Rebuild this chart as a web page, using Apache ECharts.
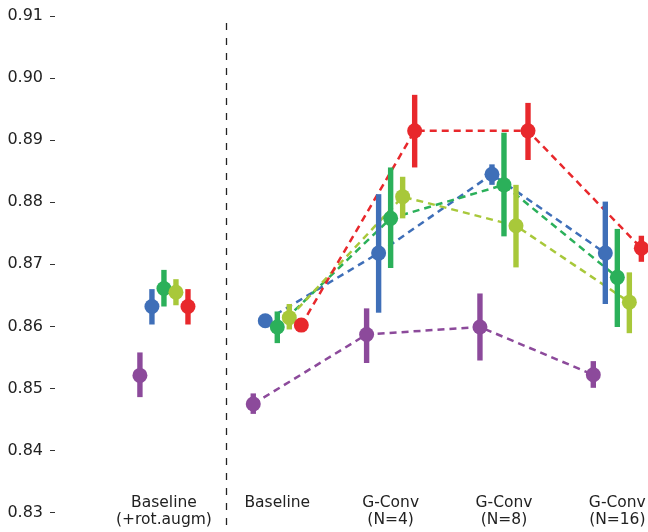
<!DOCTYPE html>
<html>
<head>
<meta charset="utf-8">
<script src="https://cdn.jsdelivr.net/npm/echarts@6/dist/echarts.min.js"></script>
<style>
  html, body { margin: 0; padding: 0; background: #fff; }
  #chart { width: 648px; height: 532px; }
</style>
</head>
<body>
<div id="chart"></div>
<script>
const categories = ['Baseline\n(+rot.augm)', 'Baseline', 'G-Conv\n(N=4)', 'G-Conv\n(N=8)', 'G-Conv\n(N=16)'];
const yTicks = [0.83, 0.84, 0.85, 0.86, 0.87, 0.88, 0.89, 0.90, 0.91];

// mean / lower / upper per category
const purpleMean = [0.8521, 0.8475, 0.8587, 0.8599, 0.8522];
const purpleLow = [0.8486, 0.8459, 0.8541, 0.8545, 0.8501];
const purpleHigh = [0.8558, 0.8492, 0.8629, 0.8653, 0.8544];

const blueMean = [0.8632, 0.8609, 0.8718, 0.8845, 0.8718];
const blueLow = [0.8603, 0.8603, 0.8622, 0.8828, 0.8636];
const blueHigh = [0.8660, 0.8615, 0.8813, 0.8861, 0.8801];

const greenMean = [0.8661, 0.8599, 0.8774, 0.8828, 0.8679];
const greenLow = [0.8632, 0.8573, 0.8694, 0.8745, 0.8599];
const greenHigh = [0.8691, 0.8624, 0.8856, 0.8912, 0.8757];

const limeMean = [0.8655, 0.8614, 0.8809, 0.8762, 0.8639];
const limeLow = [0.8634, 0.8595, 0.8774, 0.8695, 0.8589];
const limeHigh = [0.8676, 0.8636, 0.8841, 0.8828, 0.8687];

const redMean = [0.8632, 0.8602, 0.8915, 0.8915, 0.8726];
const redLow = [0.8603, 0.8596, 0.8856, 0.8868, 0.8704];
const redHigh = [0.8660, 0.8608, 0.8973, 0.8960, 0.8746];

const groups = [
  { mean: purpleMean, low: purpleLow, high: purpleHigh, color: '#8c4a9b' },
  { mean: blueMean, low: blueLow, high: blueHigh, color: '#3f6fb8' },
  { mean: greenMean, low: greenLow, high: greenHigh, color: '#2bb05a' },
  { mean: limeMean, low: limeLow, high: limeHigh, color: '#a8c83a' },
  { mean: redMean, low: redLow, high: redHigh, color: '#e8282c' },
];

const dodge = 0.106;
const myChart = echarts.init(document.getElementById('chart'), null, { renderer: 'canvas' });

const series = [];
groups.forEach((g, k) => {
  const off = (k - 2) * dodge;
  // dashed line through the non-augmented models
  series.push({
    type: 'line',
    data: g.mean.slice(1).map((v, i) => [i + 1 + off, v]),
    symbol: 'none',
    lineStyle: { color: g.color, width: 2.5, type: [7, 5] },
    z: 1,
    silent: true,
  });
});
groups.forEach((g, k) => {
  const off = (k - 2) * dodge;
  series.push({
    type: 'custom',
    data: g.mean.map((v, i) => [i + off, g.low[i], g.high[i]]),
    renderItem: (params, api) => {
      const top = api.coord([api.value(0), api.value(2)]);
      const bot = api.coord([api.value(0), api.value(1)]);
      return {
        type: 'rect',
        shape: { x: top[0] - 2.7, y: top[1], width: 5.4, height: bot[1] - top[1] },
        style: { fill: g.color },
      };
    },
    z: 2 + k * 2,
    silent: true,
  });
  series.push({
    type: 'scatter',
    data: g.mean.map((v, i) => [i + off, v]),
    symbol: 'circle',
    symbolSize: 15,
    itemStyle: { color: g.color, opacity: 1 },
    z: 3 + k * 2,
    silent: true,
  });
});

// separator between augmented baseline and the rest
series.push({
  type: 'line',
  data: [],
  markLine: {
    silent: true,
    symbol: 'none',
    label: { show: false },
    lineStyle: { color: '#222', width: 1.3, type: [7, 8] },
    data: [{ xAxis: 0.55 }],
  },
});

const option = {
  animation: false,
  grid: { left: 55, width: 619, top: 16, height: 509, outerBoundsMode: 'none', containLabel: false },
  xAxis: {
    type: 'value',
    min: -0.9612,
    max: 4.5,
    offset: -31,
    axisLine: { show: false, onZero: false },
    axisTick: { show: false },
    splitLine: { show: false },
    axisLabel: {
      customValues: [0, 1, 2, 3, 4],
      formatter: (v) => categories[Math.round(v)],
      hideOverlap: false,
      margin: 0,
      color: '#222',
      fontFamily: 'DejaVu Sans',
      fontSize: 15.5,
      lineHeight: 17.5,
      verticalAlign: 'top',
    },
  },
  yAxis: {
    type: 'value',
    min: 0.828,
    max: 0.91,
    axisLine: { show: false, onZero: false },
    axisTick: {
      show: true,
      length: 5,
      customValues: yTicks,
      lineStyle: { color: '#333', width: 1 },
    },
    axisLabel: {
      customValues: yTicks,
      margin: 12,
      color: '#222',
      fontFamily: 'DejaVu Sans',
      fontSize: 16,
      formatter: (v) => v.toFixed(2),
    },
    splitLine: { show: false },
  },
  series,
};

myChart.setOption(option);
</script>
</body>
</html>
